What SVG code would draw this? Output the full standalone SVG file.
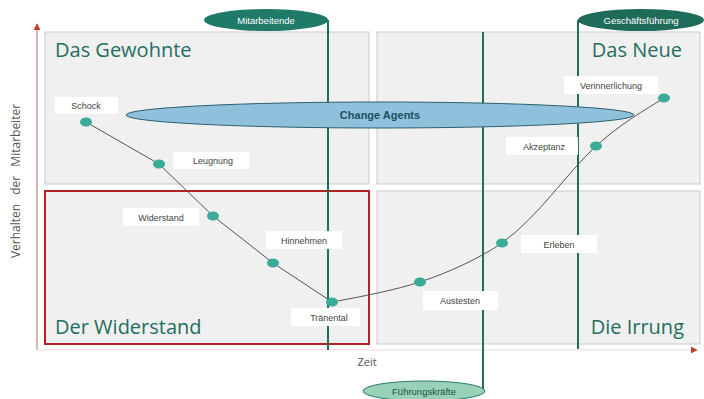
<svg xmlns="http://www.w3.org/2000/svg" width="704" height="399" viewBox="0 0 704 399">
<defs>
<style>
.quad{fill:#f0f0f0;stroke:#c9c9c9;stroke-width:1}
.title{font-family:"Open Sans","Liberation Sans",sans-serif;font-size:20px;fill:#1f6e5e}
.lbox{fill:#ffffff}
.ltxt{font-family:"Liberation Sans","DejaVu Sans",sans-serif;font-size:9px;fill:#444;text-anchor:middle}
.dot{fill:#3aab97}
.vline{stroke:#1f6e5e;stroke-width:2;fill:none}
.axis{stroke:#c9a09a;stroke-width:1.5;fill:none}
.etxt{font-family:"Liberation Sans","DejaVu Sans",sans-serif;font-size:9.5px;text-anchor:middle}
</style>
<marker id="arr" viewBox="0 0 10 10" refX="9" refY="5" markerWidth="7" markerHeight="7" orient="auto" markerUnits="userSpaceOnUse">
<path d="M0,0 L10,5 L0,10 z" fill="#c0392b"/>
</marker>
</defs>
<rect width="704" height="399" fill="#ffffff"/>

<g id="quadrants">
<g id="q-gewohnte"><rect class="quad" x="45" y="32" width="324" height="152"/><text class="title" x="55" y="57">Das Gewohnte</text></g>
<g id="q-neue"><rect class="quad" x="377" y="32" width="323" height="152"/><text class="title" x="682" y="57" text-anchor="end">Das Neue</text></g>
<g id="q-widerstand"><rect x="45" y="191" width="324" height="153" fill="#f0f0f0" stroke="#b22222" stroke-width="2"/><text class="title" x="55" y="334">Der Widerstand</text></g>
<g id="q-irrung"><rect class="quad" x="377" y="191" width="323" height="153"/><text class="title" x="684" y="334" text-anchor="end">Die Irrung</text></g>
</g>

<g id="axes">
<line class="axis" x1="37" y1="350" x2="37" y2="24" marker-end="url(#arr)"/>
<line x1="37" y1="350" x2="697" y2="350" stroke="#f3e6e4" stroke-width="1.5" marker-end="url(#arr)"/>
<text x="20" y="181" transform="rotate(-90 20 181)" font-family="Open Sans,Liberation Sans,sans-serif" font-size="12" fill="#555" text-anchor="middle" word-spacing="6">Verhalten der Mitarbeiter</text>
<text x="367" y="366" font-family="Open Sans,Liberation Sans,sans-serif" font-size="11" fill="#555" text-anchor="middle">Zeit</text>
</g>

<g id="connectors">
<path d="M86,122 L159,164 L213,216 L273,263 L332,302 C365,296 395,290 420,282 C450,272 480,258 502,243 C540,215 565,175 596,146 C620,124 645,110 664,98" fill="none" stroke="#555" stroke-width="1"/>
<line class="vline" x1="328" y1="20" x2="328" y2="350"/>
<line class="vline" x1="483" y1="32" x2="483" y2="390"/>
<line class="vline" x1="578" y1="20" x2="578" y2="349"/>
</g>

<g id="change-agents">
<ellipse cx="380" cy="115" rx="254" ry="13" fill="#8fc1dc" stroke="#2c5f6e" stroke-width="1"/>
<text x="380" y="119" font-family="Liberation Sans,DejaVu Sans,sans-serif" font-size="11" font-weight="bold" fill="#1a5060" text-anchor="middle">Change Agents</text>
</g>

<g id="mitarbeitende">
<ellipse cx="266" cy="20" rx="62" ry="11" fill="#1f7a68"/>
<text class="etxt" x="266" y="23.5" fill="#ffffff">Mitarbeitende</text>
</g>
<g id="geschaeftsfuehrung">
<ellipse cx="641" cy="20" rx="63" ry="11" fill="#1f6b5a"/>
<text class="etxt" x="641" y="23.5" fill="#ffffff">Geschäftsführung</text>
</g>
<g id="fuehrungskraefte">
<ellipse cx="424" cy="391" rx="61" ry="10" fill="#96d1b8" stroke="#2a7a68" stroke-width="1"/>
<text class="etxt" x="424" y="395" fill="#1f4f45">Führungskräfte</text>
</g>

<g id="n-schock"><rect class="lbox" x="55" y="97" width="63" height="17"/><text class="ltxt" x="86" y="108.5">Schock</text><ellipse class="dot" cx="86" cy="122" rx="6" ry="4.5"/></g>
<g id="n-leugnung"><rect class="lbox" x="173" y="152" width="76" height="17"/><text class="ltxt" x="213" y="163.5">Leugnung</text><ellipse class="dot" cx="159" cy="164" rx="6" ry="4.5"/></g>
<g id="n-widerstand"><rect class="lbox" x="123" y="208" width="76" height="18"/><text class="ltxt" x="161" y="220.5">Widerstand</text><ellipse class="dot" cx="213" cy="216" rx="6" ry="4.5"/></g>
<g id="n-hinnehmen"><rect class="lbox" x="266" y="231" width="76" height="18"/><text class="ltxt" x="304" y="243.5">Hinnehmen</text><ellipse class="dot" cx="273" cy="263" rx="6" ry="4.5"/></g>
<g id="n-traenental"><rect class="lbox" x="291" y="308" width="69" height="18"/><text class="ltxt" x="329" y="320.5">Tränental</text><ellipse class="dot" cx="332" cy="302" rx="6" ry="4.5"/></g>
<g id="n-austesten"><rect class="lbox" x="423" y="291" width="75" height="19"/><text class="ltxt" x="460" y="303.5">Austesten</text><ellipse class="dot" cx="420" cy="282" rx="6" ry="4.5"/></g>
<g id="n-erleben"><rect class="lbox" x="521" y="235" width="76" height="18"/><text class="ltxt" x="559" y="247.5">Erleben</text><ellipse class="dot" cx="502" cy="243" rx="6" ry="4.5"/></g>
<g id="n-akzeptanz"><rect class="lbox" x="506" y="137" width="72" height="18"/><text class="ltxt" x="544" y="149.5">Akzeptanz</text><ellipse class="dot" cx="596" cy="146" rx="6" ry="4.5"/></g>
<g id="n-verinnerlichung"><rect class="lbox" x="564" y="76" width="94" height="18"/><text class="ltxt" x="611" y="88.5">Verinnerlichung</text><ellipse class="dot" cx="664" cy="98" rx="6" ry="4.5"/></g>
</svg>
